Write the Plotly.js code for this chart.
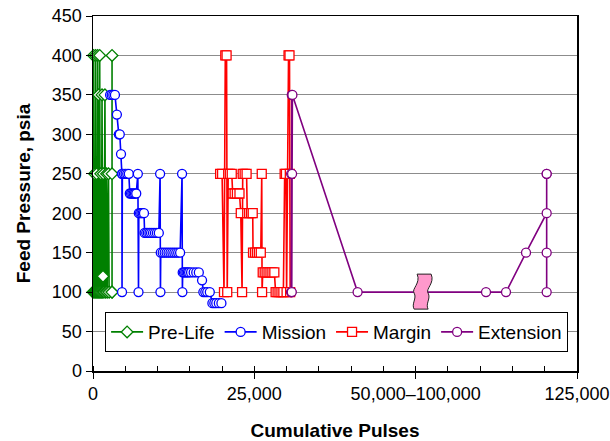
<!DOCTYPE html>
<html>
<head>
<meta charset="utf-8">
<script src="https://cdn.plot.ly/plotly-3.0.1.min.js"></script>
<style>
  html, body { margin: 0; padding: 0; background: #fff; }
  #chart { width: 610px; height: 441px; }
</style>
</head>
<body>
<div id="chart"></div>
<script>
// Feed pressure test history, cumulative pulse counts vs. pressure (psia)
const preLifePulses = [0, 80, 160, 240, 320, 400, 480, 560, 640, 720, 800, 880, 960, 1040, 1120, 1200, 1300, 1400, 1500, 1550, 1600, 1700, 1850, 1950, 2100, 2200, 2400, 2500, 2950, 2950, 2950, 2950];
const preLifePsia   = [100, 400, 100, 250, 100, 400, 100, 250, 100, 400, 100, 350, 100, 400, 100, 250, 100, 350, 100, 120, 250, 100, 350, 100, 250, 100, 250, 100, 100, 400, 250, 100];

const missionPulses = [2650, 2900, 3150, 3400, 3700, 4000, 4150, 4340, 4480, 4500, 4550, 4800, 5050, 5300, 5550, 5700, 5900, 6100, 6300, 6500, 6700, 6950, 7050, 7100, 7300, 7500, 7700, 7900, 8000, 8250, 8500, 8750, 9000, 9300, 9600, 9900, 10200, 10400, 10450, 10500, 10800, 11100, 11400, 11700, 12000, 12300, 12600, 12900, 13200, 13500, 13800, 13850, 13900, 14100, 14300, 14500, 14700, 14900, 15200, 15600, 16000, 16400, 16900, 17100, 17400, 17700, 18100, 18500, 18800, 19100, 19500, 19900];
const missionPsia   = [350, 350, 350, 350, 325, 300, 300, 275, 250, 100, 250, 250, 250, 250, 250, 225, 225, 225, 225, 225, 225, 250, 100, 200, 200, 200, 200, 200, 175, 175, 175, 175, 175, 175, 175, 175, 175, 250, 100, 150, 150, 150, 150, 150, 150, 150, 150, 150, 150, 150, 250, 100, 125, 125, 125, 125, 125, 125, 125, 125, 125, 125, 115, 100, 100, 100, 100, 86, 86, 86, 86, 86];

const marginPulses = [19700, 20000, 20300, 20500, 20700, 20800, 20950, 21200, 21500, 21650, 21950, 22300, 22700, 22900, 23100, 23200, 23500, 23800, 23900, 24200, 24500, 24750, 24800, 25100, 25400, 25700, 26000, 26150, 26200, 26300, 26600, 26900, 27200, 27500, 27800, 28100, 28300, 28600, 28900, 29200, 29500, 29700, 29900, 30000, 30300, 30450, 30500, 30550];
const marginPsia   = [250, 250, 100, 400, 400, 100, 250, 250, 250, 225, 225, 225, 225, 200, 100, 250, 250, 250, 200, 200, 200, 200, 150, 150, 150, 150, 150, 250, 100, 125, 125, 125, 125, 125, 125, 125, 100, 100, 100, 100, 100, 250, 250, 100, 400, 400, 250, 100];

const extensionPulses = [30700, 30700, 30750, 30800, 30800, 30850, 30900, 41000, 110900, 114000, 117100, 120300, 120300, 120300, 120300, 120300];
const extensionPsia   = [100, 250, 100, 350, 100, 250, 350, 100, 100, 100, 150, 200, 250, 100, 150, 250];

// Axis ticks; the span 50,000-100,000 is cut out of the axis
const gapStart = 50000;
const gapEnd = 100000;
const tickValues = [0, 25000, 100000, 125000];
const tickLabels = ['0', '25,000', '50,000\u2013100,000', '125,000'];
const breakMarkPulses = 101000;
const breakMarkPsia = 100;

// map a cumulative pulse count onto the broken axis
function axisX(p) {
  return p >= gapEnd ? p - (gapEnd - gapStart) : p;
}

const font = 'Arial, "Liberation Sans", sans-serif';

function series(name, xs, ys, color, symbol, size) {
  return {
    type: 'scatter',
    mode: 'lines+markers',
    name: name,
    x: xs.map(axisX),
    y: ys,
    line: { color: color, width: 1.6 },
    marker: { symbol: symbol, size: size, color: '#ffffff', line: { color: color, width: 1.3 } },
    cliponaxis: false
  };
}

const traces = [
  series('Pre-Life', preLifePulses, preLifePsia, '#008000', 'diamond', 9),
  series('Mission', missionPulses, missionPsia, '#0000ff', 'circle', 9),
  series('Margin', marginPulses, marginPsia, '#ff0000', 'square', 9),
  series('Extension', extensionPulses, extensionPsia, '#800080', 'circle', 9)
];

// wavy break marker drawn in pixels around its anchor point
const breakPath = 'M -5,18 L 9,18 C 13,9 3,3 6,-1 C 9,-6 3,-12 6,-17 L -8,-17 C -11,-12 -5,-6 -8,-1 C -11,3 -1,9 -5,18 Z';

const layout = {
  width: 610,
  height: 441,
  margin: { l: 93, r: 33, t: 16, b: 70 },
  paper_bgcolor: '#ffffff',
  plot_bgcolor: '#ffffff',
  font: { family: font, size: 18, color: '#000000' },
  showlegend: true,
  legend: {
    orientation: 'h',
    x: 0.025, xanchor: 'left',
    y: 0.166, yanchor: 'top',
    itemwidth: 32,
    bgcolor: '#ffffff',
    bordercolor: '#000000',
    borderwidth: 1,
    font: { family: font, size: 19, color: '#000000' }
  },
  xaxis: {
    range: [0, 75000],
    tickmode: 'array',
    tickvals: tickValues.map(axisX),
    ticktext: tickLabels,
    ticks: 'outside',
    ticklen: 6,
    tickwidth: 1,
    tickcolor: '#000000',
    minor: { tickmode: 'linear', tick0: 0, dtick: 5000, ticks: 'inside', ticklen: 5, tickcolor: '#000000', showgrid: false },
    showline: true,
    linecolor: '#000000',
    linewidth: 1.5,
    mirror: true,
    showgrid: false,
    zeroline: false,
    tickfont: { family: font, size: 18 },
    title: { text: 'Cumulative Pulses', font: { family: font, size: 19, weight: 'bold' }, standoff: 22 }
  },
  yaxis: {
    range: [0, 450],
    tickmode: 'linear',
    tick0: 0,
    dtick: 50,
    ticks: 'outside',
    ticklen: 6,
    tickwidth: 1,
    tickcolor: '#000000',
    showline: true,
    linecolor: '#000000',
    linewidth: 1.5,
    mirror: true,
    showgrid: true,
    gridcolor: '#8c8c8c',
    gridwidth: 1,
    zeroline: false,
    tickfont: { family: font, size: 18 },
    title: { text: 'Feed Pressure, psia', font: { family: font, size: 19, weight: 'bold' }, standoff: 16 }
  },
  shapes: [{
    type: 'path',
    xref: 'x', yref: 'y',
    xsizemode: 'pixel', ysizemode: 'pixel',
    xanchor: axisX(breakMarkPulses),
    yanchor: breakMarkPsia,
    path: breakPath,
    fillcolor: '#ff99cc',
    line: { color: '#222222', width: 1 },
    layer: 'above'
  }]
};

Plotly.newPlot('chart', traces, layout, { displayModeBar: false, staticPlot: true });
</script>
</body>
</html>
